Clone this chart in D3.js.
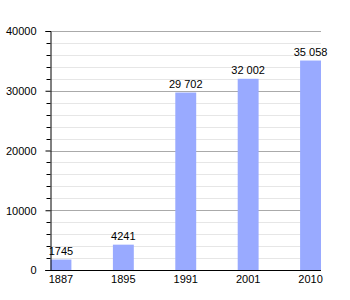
<!DOCTYPE html>
<html><head><meta charset="utf-8">
<script src="https://cdn.jsdelivr.net/npm/d3@7"></script>
<style>body{margin:0;background:#fff}svg{display:block}text{font-family:"Liberation Sans",Arial,sans-serif;font-size:11px;fill:#000}</style>
</head><body>
<script>
const years = ["1887","1895","1991","2001","2010"];
const population = [1745,4241,29702,32002,35058];
const valueLabels = ["1745","4241","29 702","32 002","35 058"];
const yTicks = [0,10000,20000,30000,40000];

(function(){
const W=350,H=300, mLeft=50.5, mRight=321, mTop=31, mBottom=270;
const svg=d3.select("body").append("svg").attr("width",W).attr("height",H);
const x=d3.scaleBand().domain(years).range([mLeft,mRight]).paddingInner(0.665).paddingOuter(0).align(0);
const y=d3.scaleLinear().domain([0,40000]).range([mBottom,mTop]);

const minor=d3.range(2000,40000,2000).filter(v=>v%10000!==0);
svg.append("g").selectAll("line").data(minor).join("line")
  .attr("x1",mLeft).attr("x2",mRight).attr("y1",d=>Math.round(y(d))+0.5).attr("y2",d=>Math.round(y(d))+0.5)
  .attr("stroke","#e6e6e6");
svg.append("g").selectAll("line").data(yTicks.filter(v=>v>0)).join("line")
  .attr("x1",mLeft).attr("x2",mRight).attr("y1",d=>Math.round(y(d))+0.5).attr("y2",d=>Math.round(y(d))+0.5)
  .attr("stroke","#aaaaaa");

svg.append("g").selectAll("rect").data(population).join("rect")
  .attr("x",(d,i)=>x(years[i])).attr("width",x.bandwidth())
  .attr("y",d=>y(d)).attr("height",d=>mBottom-y(d)).attr("fill","#99aaff");
svg.append("g").selectAll("text").data(population).join("text")
  .attr("x",(d,i)=>x(years[i])+x.bandwidth()/2).attr("y",d=>y(d)-5)
  .attr("text-anchor","middle").text((d,i)=>valueLabels[i]);

const ya=svg.append("g").attr("transform",`translate(${mLeft},0)`)
  .call(d3.axisLeft(y).tickValues(yTicks).tickSize(5).tickFormat(d3.format("d")));
ya.select(".domain").attr("stroke","#000");
ya.selectAll(".tick line").attr("stroke","#000");
ya.selectAll("text").style("font-size","11px").attr("x",-14).attr("dy","0.35em");
svg.append("g").selectAll("line").data(minor).join("line")
  .attr("x1",mLeft-4).attr("x2",mLeft).attr("y1",d=>Math.round(y(d))+0.5).attr("y2",d=>Math.round(y(d))+0.5)
  .attr("stroke","#000");

const xa=svg.append("g").attr("transform",`translate(0,${mBottom})`)
  .call(d3.axisBottom(x).tickSize(0).tickPadding(5));
xa.select(".domain").attr("d",`M${mLeft-5},0.5H${mRight}`).attr("stroke","#000");
xa.selectAll("text").style("font-size","11px");
})();
</script>
</body></html>
